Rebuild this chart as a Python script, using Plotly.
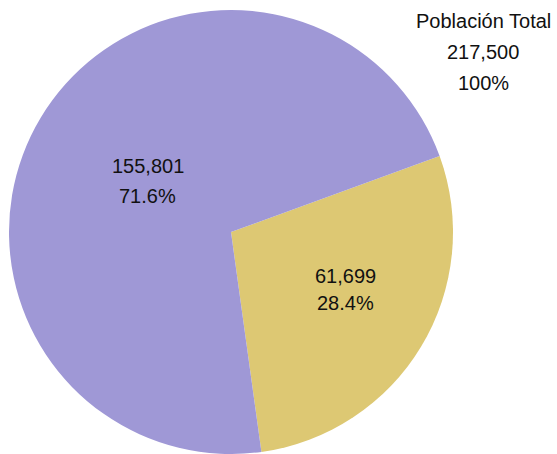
import math
import plotly.graph_objects as go

# Population split
labels = ["Grupo B", "Grupo A"]
values = [61699, 155801]
colors = ["#DDC873", "#9F98D6"]
total_title = "Población Total"

total = sum(values)
pcts = [v / total * 100 for v in values]

W, H = 557, 454
# Pie geometry in pixels
cx, cy, r = 231, 232, 222
start_angle = 70.0  # degrees clockwise from 12 o'clock

fig = go.Figure(
    go.Pie(
        labels=labels,
        values=values,
        marker=dict(colors=colors, line=dict(width=0)),
        sort=False,
        direction="clockwise",
        rotation=start_angle,
        textinfo="none",
        hoverinfo="label+value+percent",
        domain=dict(x=[(cx - r) / W, (cx + r) / W],
                    y=[max(0.0, (H - cy - r) / H), min(1.0, (H - cy + r) / H)]),
        showlegend=False,
    )
)

font = dict(family="Liberation Sans, Arial, sans-serif", size=20, color="#111111")

def px(x, y):
    return x / W, 1 - y / H

annotations = []
# Slice labels placed along each slice's mid angle
radial_frac = [0.578, 0.44]
angle_offset = [-4.2, 0.7]
line_gap = [27, 30]
acc = 0.0
for v, p, rf, ao, gap in zip(values, pcts, radial_frac, angle_offset, line_gap):
    mid = start_angle + (acc + v / 2) / total * 360 + ao
    acc += v
    a = math.radians(mid)
    lx = cx + rf * r * math.sin(a)
    ly = cy - rf * r * math.cos(a)
    for k, t in enumerate([f"{v:,}", f"{p:.1f}%"]):
        x, y = px(lx, ly + (k - 0.5) * gap)
        annotations.append(dict(x=x, y=y, xref="paper", yref="paper", text=t,
                                showarrow=False, font=font,
                                xanchor="center", yanchor="middle"))

# Total block in the top-right corner
for k, t in enumerate([total_title, f"{total:,}", "100%"]):
    x, y = px(483, 21 + k * 31)
    annotations.append(dict(x=x, y=y, xref="paper", yref="paper", text=t,
                            showarrow=False, font=font,
                            xanchor="center", yanchor="middle"))

fig.update_layout(
    width=W, height=H,
    margin=dict(l=0, r=0, t=0, b=0),
    paper_bgcolor="white",
    plot_bgcolor="white",
    annotations=annotations,
)

fig.write_html("out.html")
